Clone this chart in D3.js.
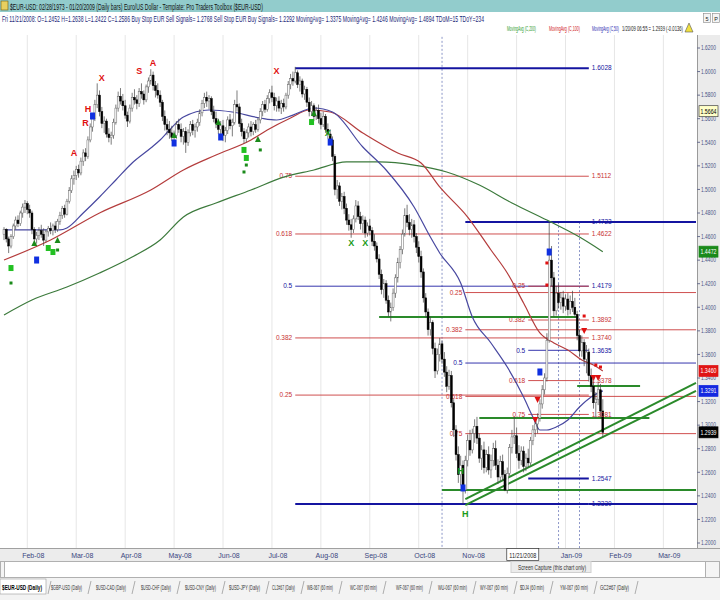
<!DOCTYPE html>
<html><head><meta charset="utf-8">
<script src="https://cdn.jsdelivr.net/npm/d3@7"></script>
<style>body{margin:0;background:#fff}svg{display:block}text{font-family:"Liberation Sans Narrow","Arial Narrow","Liberation Sans",Arial,sans-serif}</style>
</head><body><svg id="c" width="720" height="600"></svg>
<script>
// ---------------- DATA ----------------
const open=[1.462,1.466,1.458,1.452,1.460,1.469,1.474,1.471,1.480,1.485,
1.488,1.483,1.480,1.466,1.458,1.461,1.465,1.462,1.457,1.464,
1.467,1.465,1.469,1.466,1.473,1.478,1.484,1.479,1.490,1.499,
1.509,1.512,1.517,1.514,1.524,1.531,1.528,1.542,1.553,1.560,
1.572,1.580,1.566,1.556,1.558,1.547,1.544,1.546,1.557,1.569,
1.579,1.575,1.571,1.563,1.558,1.569,1.578,1.576,1.573,1.583,
1.581,1.576,1.587,1.592,1.597,1.588,1.584,1.580,1.574,1.562,
1.555,1.551,1.548,1.544,1.546,1.555,1.551,1.545,1.549,1.540,
1.548,1.555,1.550,1.553,1.557,1.565,1.573,1.578,1.575,1.577,
1.566,1.560,1.556,1.551,1.554,1.546,1.550,1.559,1.554,1.557,
1.572,1.570,1.556,1.549,1.543,1.548,1.553,1.549,1.555,1.551,
1.559,1.566,1.572,1.568,1.577,1.582,1.578,1.571,1.575,1.569,
1.573,1.570,1.580,1.589,1.594,1.592,1.599,1.589,1.592,1.581,
1.585,1.574,1.566,1.571,1.562,1.567,1.560,1.555,1.562,1.551,
1.547,1.542,1.528,1.500,1.503,1.490,1.494,1.484,1.474,1.470,
1.466,1.475,1.486,1.477,1.471,1.474,1.463,1.469,1.465,1.456,
1.452,1.441,1.428,1.415,1.420,1.406,1.396,1.400,1.412,1.425,
1.438,1.449,1.462,1.478,1.472,1.466,1.470,1.460,1.451,1.443,
1.430,1.408,1.396,1.381,1.387,1.365,1.346,1.360,1.369,1.356,
1.345,1.333,1.342,1.319,1.296,1.275,1.258,1.266,1.245,1.270,
1.287,1.279,1.293,1.299,1.289,1.272,1.279,1.264,1.275,1.262,
1.270,1.280,1.266,1.256,1.269,1.258,1.245,1.259,1.281,1.290,
1.291,1.276,1.270,1.278,1.265,1.272,1.268,1.287,1.296,1.301,
1.306,1.318,1.330,1.340,1.372,1.440,1.425,1.397,1.412,1.404,
1.408,1.401,1.407,1.398,1.405,1.400,1.394,1.376,1.363,1.370,
1.356,1.362,1.342,1.333,1.319,1.322,1.330,1.312];
const high=[1.468,1.467,1.460,1.462,1.471,1.477,1.478,1.482,1.488,1.491,
1.490,1.487,1.482,1.468,1.464,1.468,1.470,1.467,1.466,1.469,
1.472,1.471,1.473,1.475,1.481,1.486,1.487,1.492,1.502,1.512,
1.516,1.520,1.521,1.527,1.534,1.535,1.545,1.556,1.563,1.576,
1.590,1.584,1.570,1.562,1.560,1.552,1.549,1.560,1.572,1.583,
1.586,1.581,1.576,1.566,1.572,1.582,1.585,1.580,1.586,1.590,
1.584,1.589,1.595,1.602,1.600,1.592,1.590,1.584,1.576,1.567,
1.560,1.558,1.554,1.550,1.558,1.560,1.556,1.552,1.553,1.551,
1.558,1.559,1.556,1.560,1.568,1.576,1.582,1.583,1.580,1.579,
1.571,1.566,1.560,1.558,1.559,1.553,1.562,1.564,1.560,1.576,
1.584,1.573,1.560,1.552,1.551,1.556,1.558,1.557,1.559,1.561,
1.569,1.575,1.576,1.580,1.585,1.588,1.582,1.578,1.579,1.576,
1.577,1.582,1.592,1.598,1.600,1.604,1.601,1.596,1.594,1.588,
1.587,1.578,1.575,1.573,1.570,1.572,1.565,1.566,1.564,1.556,
1.551,1.545,1.530,1.508,1.506,1.497,1.498,1.488,1.479,1.475,
1.478,1.491,1.490,1.481,1.478,1.477,1.472,1.475,1.468,1.462,
1.455,1.445,1.432,1.424,1.423,1.410,1.404,1.416,1.428,1.442,
1.452,1.466,1.484,1.487,1.479,1.475,1.474,1.463,1.456,1.448,
1.433,1.412,1.399,1.392,1.389,1.370,1.365,1.374,1.372,1.362,
1.350,1.347,1.346,1.322,1.300,1.282,1.274,1.270,1.274,1.292,
1.296,1.297,1.305,1.307,1.293,1.283,1.286,1.279,1.282,1.275,
1.285,1.287,1.271,1.274,1.275,1.262,1.264,1.284,1.296,1.307,
1.298,1.283,1.282,1.282,1.276,1.280,1.290,1.300,1.307,1.310,
1.322,1.334,1.344,1.378,1.472,1.452,1.430,1.418,1.420,1.413,
1.414,1.411,1.412,1.410,1.414,1.408,1.397,1.381,1.376,1.373,
1.368,1.365,1.348,1.337,1.328,1.337,1.335,1.322];
const low=[1.457,1.455,1.446,1.450,1.458,1.466,1.468,1.469,1.476,1.480,
1.479,1.476,1.462,1.455,1.454,1.457,1.459,1.452,1.455,1.460,
1.462,1.461,1.463,1.464,1.470,1.475,1.476,1.478,1.488,1.497,
1.504,1.508,1.510,1.512,1.520,1.524,1.526,1.540,1.549,1.558,
1.569,1.562,1.552,1.548,1.544,1.540,1.538,1.543,1.555,1.566,
1.572,1.567,1.560,1.553,1.556,1.566,1.572,1.568,1.570,1.577,
1.572,1.574,1.582,1.589,1.584,1.578,1.577,1.570,1.558,1.550,
1.546,1.543,1.541,1.539,1.543,1.548,1.540,1.538,1.531,1.537,
1.545,1.546,1.544,1.549,1.554,1.562,1.569,1.570,1.568,1.563,
1.557,1.552,1.547,1.545,1.541,1.540,1.547,1.551,1.545,1.555,
1.566,1.553,1.545,1.539,1.540,1.544,1.545,1.546,1.548,1.549,
1.556,1.562,1.565,1.566,1.573,1.574,1.567,1.566,1.566,1.564,
1.566,1.568,1.577,1.585,1.588,1.590,1.586,1.583,1.578,1.576,
1.570,1.562,1.563,1.558,1.559,1.556,1.551,1.553,1.548,1.543,
1.539,1.524,1.495,1.492,1.486,1.483,1.479,1.470,1.465,1.459,
1.463,1.472,1.474,1.466,1.463,1.459,1.460,1.461,1.452,1.448,
1.438,1.424,1.411,1.408,1.403,1.392,1.388,1.397,1.408,1.421,
1.433,1.445,1.460,1.468,1.461,1.459,1.455,1.446,1.438,1.425,
1.404,1.391,1.376,1.376,1.360,1.340,1.343,1.354,1.352,1.341,
1.328,1.330,1.315,1.290,1.270,1.251,1.249,1.233,1.242,1.265,
1.274,1.276,1.285,1.284,1.268,1.262,1.259,1.260,1.258,1.255,
1.265,1.262,1.250,1.252,1.253,1.244,1.242,1.257,1.276,1.284,
1.272,1.263,1.266,1.260,1.261,1.264,1.266,1.283,1.290,1.293,
1.303,1.314,1.326,1.337,1.370,1.418,1.392,1.393,1.399,1.398,
1.395,1.397,1.393,1.394,1.396,1.391,1.372,1.358,1.358,1.350,
1.344,1.337,1.328,1.314,1.306,1.317,1.306,1.290];
const close=[1.466,1.458,1.452,1.460,1.469,1.474,1.471,1.480,1.485,1.488,
1.483,1.480,1.466,1.458,1.461,1.465,1.462,1.457,1.464,1.467,
1.465,1.469,1.466,1.473,1.478,1.484,1.479,1.490,1.499,1.509,
1.512,1.517,1.514,1.524,1.531,1.528,1.542,1.553,1.560,1.572,
1.580,1.566,1.556,1.558,1.547,1.544,1.546,1.557,1.569,1.579,
1.575,1.571,1.563,1.558,1.569,1.578,1.576,1.573,1.583,1.581,
1.576,1.587,1.592,1.597,1.588,1.584,1.580,1.574,1.562,1.555,
1.551,1.548,1.544,1.546,1.555,1.551,1.545,1.549,1.540,1.548,
1.555,1.550,1.553,1.557,1.565,1.573,1.578,1.575,1.577,1.566,
1.560,1.556,1.551,1.554,1.546,1.550,1.559,1.554,1.557,1.572,
1.570,1.556,1.549,1.543,1.548,1.553,1.549,1.555,1.551,1.559,
1.566,1.572,1.568,1.577,1.582,1.578,1.571,1.575,1.569,1.573,
1.570,1.580,1.589,1.594,1.592,1.599,1.589,1.592,1.581,1.585,
1.574,1.566,1.571,1.562,1.567,1.560,1.555,1.562,1.551,1.547,
1.542,1.528,1.500,1.503,1.490,1.494,1.484,1.474,1.470,1.466,
1.475,1.486,1.477,1.471,1.474,1.463,1.469,1.465,1.456,1.452,
1.441,1.428,1.415,1.420,1.406,1.396,1.400,1.412,1.425,1.438,
1.449,1.462,1.478,1.472,1.466,1.470,1.460,1.451,1.443,1.430,
1.408,1.396,1.381,1.387,1.365,1.346,1.360,1.369,1.356,1.345,
1.333,1.342,1.319,1.296,1.275,1.258,1.266,1.245,1.270,1.287,
1.279,1.293,1.299,1.289,1.272,1.279,1.264,1.275,1.262,1.270,
1.280,1.266,1.256,1.269,1.258,1.245,1.259,1.281,1.290,1.291,
1.276,1.270,1.278,1.265,1.272,1.268,1.287,1.296,1.301,1.306,
1.318,1.330,1.340,1.372,1.440,1.425,1.397,1.412,1.404,1.408,
1.401,1.407,1.398,1.405,1.400,1.394,1.376,1.363,1.370,1.356,
1.362,1.342,1.333,1.319,1.322,1.330,1.312,1.294];

// moving averages (bar index, value)
const ma50Idx=[0,24,27,34,41,48,55,63,67,71,77,88,98,110,117,124,133,141,154,164,176,183,187,196,201,209,216,223,227,230,233,237,242,247,252,257];
const ma50Val=[1.4656,1.4656,1.4673,1.4800,1.4936,1.5080,1.5224,1.5351,1.5419,1.5504,1.5614,1.5674,1.5657,1.5606,1.5589,1.5631,1.5691,1.5657,1.5360,1.5165,1.4851,1.4596,1.4461,1.4206,1.3918,1.3697,1.3493,1.3239,1.3069,1.2959,1.2959,1.2984,1.3044,1.3154,1.3239,1.3291];
const ma100Idx=[0,20,41,63,77,91,106,113,123,131,140,154,169,179,187,199,209,216,223,230,236,242,248,253,257];
const ma100Val=[1.4401,1.4571,1.4800,1.4995,1.5165,1.5292,1.5419,1.5504,1.5606,1.5674,1.5657,1.5479,1.5309,1.5224,1.5021,1.4766,1.4486,1.4291,1.4036,1.3782,1.3697,1.3638,1.3553,1.3510,1.3460];
const ma200Idx=[0,12,27,41,55,67,77,91,106,120,133,147,161,176,190,204,218,233,247,257];
const ma200Val=[1.3935,1.4062,1.4172,1.4291,1.4427,1.4571,1.4766,1.4885,1.4995,1.5105,1.5165,1.5233,1.5233,1.5207,1.5148,1.5037,1.4885,1.4740,1.4596,1.4472];

// x axis (Dec-08 is hidden under the cursor tooltip in the reference)
const monthLabels=["Feb-08","Mar-08","Apr-08","May-08","Jun-08","Jul-08","Aug-08","Sep-08","Oct-08","Nov-08","Dec-08","Jan-09","Feb-09","Mar-09"];
const monthIdx=[10,31,52,73,94,115,136,157,178,199,220,241,262,283];
const cursorIdx=216; // Fri 11/21/2008
// y axis
const priceTicks=d3.range(1.20,1.6201,0.02);

// Fibonacci set A (Jul-15 high -> Oct-28 low)
const fibALevels=["","0.75","0.618","0.5","0.382","0.25",""];
const fibAPrices=[1.6028,1.5112,1.4622,1.4179,1.3740,1.3255,1.2330];
const fibAValueLabels=["1.6028","1.5112","1.4622","1.4179","1.3740","","1.2330"];
const fibAFrom=125, fibATo=251;
// Fibonacci set B (Oct-28 low / Dec-18 high)
const fibBLevels=["","0.25","0.382","0.5","0.618","0.75"];
const fibBPrices=[1.4723,1.4125,1.3809,1.3527,1.3244,1.2928];
const fibBValueLabels=["1.4723","","","","",""];
const fibBFrom=198, fibBTo=297;
// Fibonacci set C (Dec-18 high -> 1.2547)
const fibCLevels=["0.25","0.382","0.5","0.618","0.75",""];
const fibCPrices=[1.4179,1.3892,1.3635,1.3378,1.3091,1.2547];
const fibCValueLabels=["","1.3892","1.3635","1.3378","1.3081","1.2547"];
const fibCFrom=225, fibCTo=251;

// green support / resistance
const srPrice=[1.3918,1.3332,1.3061,1.2450];
const srFrom=[161,246,204,188];
const srTo=[246,273,277,297];
// double trend line
const trendFrom=[198,198], trendTo=[297,297];
const trendP0=[1.2373,1.2322], trendP1=[1.3358,1.3290];
// cycle lines
const cycleIdx=[188,238,247];
const cycleTop=[1.66,1.4723,1.4723];

// signal markers
const mkIdx=[30,35,36,42,58,64,117, 149,155,139,196,198, 14,38,73,93,140,197,230,234, 3,19,21,103,104,132, 3,23,104,103,110, 13,23,73,92,109,133, 233,233,249,256,254, 229,228,249,253,255];
const mkPrice=[1.5318,1.5572,1.5691,1.5954,1.6013,1.6081,1.6013, 1.4554,1.4554,1.5487,1.2619,1.2255, 1.4401,1.5623,1.5394,1.5445,1.5402,1.2467,1.3451,1.4469, 1.4333,1.4503,1.4469,1.5335,1.5267,1.5572, 1.4206,1.4486,1.5207,1.5148,1.5335, 1.4545,1.4571,1.5462,1.5572,1.5428,1.5648, 1.4376,1.4189,1.3926,1.3493,1.3510, 1.3213,1.3044,1.3799,1.3400,1.3400];
const mkType=["rA","rR","rH","rX","rS","rA","rX", "gX","gX","gX","gH","gH", "bsq","bsq","bsq","bsq","bsq","bsq","bsq","bsq", "gsq","gsq","gsq","gsq","gsq","gsq", "gdot","gdot","gdot","gdot","gdot", "gtri","gtri","gtri","gtri","gtri","gtri", "rdot","rdot","rdot","rdot","rdot", "rtri","rtri","rtri","rtri","rtri"];

// last-value boxes on the price axis
const boxPrice=[1.5664,1.4472,1.3460,1.3291,1.2939];
const boxLabel=["1.5664","1.4472","1.3460","1.3291","1.2939"];

// header / tabs text
const titleText="$EUR-USD:  02/28/1973 - 01/20/2009  (Daily bars)   Euro/US Dollar  -  Template: Pro Traders Toolbox ($EUR-USD)";
const infoText="Fri   11/21/2008:   O=1.2452  H=1.2638  L=1.2422  C=1.2586  Buy Stop EUR Sell Signals= 1.2768  Sell Stop EUR Buy Signals= 1.2292  MovingAvg= 1.3375  MovingAvg= 1.4246  MovingAvg= 1.4894  TDoM=15  TDoY=234";
const legendText=["MovingAvg (C,200)","MovingAvg (C,100)","MovingAvg (C,50)"];
const lastText="1/20/09 06:55 = 1.2939 (-0.0136)";
const tabNames=["$EUR-USD (Daily)","$GBP-USD (Daily)","$USD-CAD (Daily)","$USD-CHF (Daily)","$USD-CNY (Daily)","$USD-JPY (Daily)","CL2#67 (Daily)","WB-067 (60 min)","WC-067 (60 min)","WF-067 (60 min)","WU-067 (60 min)","WY-067 (60 min)","$DJ4 (60 min)","YM-067 (60 min)","GC2#67 (Daily)"];

// ---------------- LAYOUT / STYLE ----------------
const PT=35, PB=548, PR=697;
const svg=d3.select('#c');
const x=d3.scaleLinear().domain([0,297]).range([4,696]);
const y=d3.scaleLinear().domain([1.2,1.62]).range([543,48]);
const RED='#c83232', BLUE='#1414a0', GREEN='#2a8a2a';

svg.append('rect').attr('width',720).attr('height',600).attr('fill','#fff');
svg.append('defs').append('clipPath').attr('id','pc').append('rect').attr('x',0).attr('y',PT).attr('width',PR).attr('height',PB-PT);
const g=svg.append('g').attr('clip-path','url(#pc)');

// month gridlines
g.selectAll('line.mg').data(monthIdx).join('line')
 .attr('x1',d=>x(d)).attr('x2',d=>x(d)).attr('y1',PT).attr('y2',PB)
 .attr('stroke','#e6e6e6').attr('stroke-width',1);
// cycle lines
g.selectAll('line.cy').data(cycleIdx).join('line')
 .attr('x1',d=>x(d)).attr('x2',d=>x(d)).attr('y1',(d,i)=>y(cycleTop[i])).attr('y2',PB)
 .attr('stroke','#8c96c8').attr('stroke-width',1).attr('stroke-dasharray','2,2');

// fib sets
function fibSet(levels,prices,vals,from,to){
  prices.forEach((p,k)=>{
    const lv=levels[k];
    const isBlue = lv==="0.5" || lv==="";
    const thick = lv==="";
    g.append('line').attr('x1',x(from)).attr('x2',x(to)).attr('y1',y(p)).attr('y2',y(p))
      .attr('stroke',isBlue?BLUE:RED).attr('stroke-width',thick?2:1).attr('opacity',thick?1:0.85);
    if(lv) g.append('text').attr('x',x(from)-3).attr('y',y(p)+2.2).attr('text-anchor','end')
      .attr('font-size',6.5).attr('fill',isBlue?BLUE:RED).text(lv);
    if(vals[k]) svg.append('text').attr('x',x(fibATo)+3).attr('y',y(p)+2.2)
      .attr('font-size',6.5).attr('fill',isBlue?BLUE:RED).text(vals[k]);
  });
}
fibSet(fibALevels,fibAPrices,fibAValueLabels,fibAFrom,fibATo);
g.append('line').attr('x1',x(fibATo)).attr('x2',PR).attr('y1',y(1.2330)).attr('y2',y(1.2330)).attr('stroke',BLUE).attr('stroke-width',2);
fibSet(fibBLevels,fibBPrices,fibBValueLabels,fibBFrom,fibBTo);
fibSet(fibCLevels,fibCPrices,fibCValueLabels,fibCFrom,fibCTo);

// support / resistance
g.selectAll('line.sr').data(srPrice).join('line')
 .attr('x1',(d,i)=>x(srFrom[i])).attr('x2',(d,i)=>x(srTo[i])).attr('y1',d=>y(d)).attr('y2',d=>y(d))
 .attr('stroke',GREEN).attr('stroke-width',2);
g.selectAll('line.tr').data(trendP0).join('line')
 .attr('x1',(d,i)=>x(trendFrom[i])).attr('x2',(d,i)=>x(trendTo[i])).attr('y1',d=>y(d)).attr('y2',(d,i)=>y(trendP1[i]))
 .attr('stroke',GREEN).attr('stroke-width',2);

// moving averages
const lineGen=d3.line().curve(d3.curveMonotoneX);
[[ma200Idx,ma200Val,'#3c7a3c'],[ma100Idx,ma100Val,'#b43c3c'],[ma50Idx,ma50Val,'#4848a0']].forEach(([xi,v,c])=>{
  g.append('path').attr('d',lineGen(xi.map((d,i)=>[x(d),y(v[i])]))).attr('fill','none').attr('stroke',c).attr('stroke-width',1.2);
});

// candles
const bars=close.map((c,i)=>({i,o:open[i],h:high[i],l:low[i],c}));
g.selectAll('line.wk').data(bars).join('line')
 .attr('x1',d=>x(d.i)).attr('x2',d=>x(d.i)).attr('y1',d=>y(d.h)).attr('y2',d=>y(d.l))
 .attr('stroke','#444').attr('stroke-width',0.7);
g.selectAll('rect.bd').data(bars).join('rect')
 .attr('x',d=>x(d.i)-0.95).attr('width',1.9)
 .attr('y',d=>y(Math.max(d.o,d.c))).attr('height',d=>Math.max(0.8,Math.abs(y(d.o)-y(d.c))))
 .attr('fill',d=>d.c>=d.o?'#fff':'#000').attr('stroke',d=>d.c>=d.o?'#666':'#000').attr('stroke-width',0.5);

// markers
mkType.forEach((t,k)=>{
  const cx=x(mkIdx[k]), cy=y(mkPrice[k]);
  if(t[0]==='r' && t.length===2){
    g.append('text').attr('x',cx).attr('y',cy+4).attr('text-anchor','middle').attr('font-size',9).attr('font-weight','bold')
      .attr('font-family','DejaVu Serif,serif').attr('fill','#e01010').text(t[1]);
  } else if(t==='gX'||t==='gH'){
    g.append('text').attr('x',cx).attr('y',cy+4).attr('text-anchor','middle').attr('font-size',9).attr('font-weight','bold')
      .attr('font-family','DejaVu Serif,serif').attr('fill','#1a9a1a').text(t[1]);
  } else if(t==='bsq'){
    g.append('rect').attr('x',cx-2.5).attr('y',cy-3.5).attr('width',5).attr('height',7).attr('fill','#1030e0');
  } else if(t==='gsq'){
    g.append('rect').attr('x',cx-2.5).attr('y',cy-3).attr('width',5).attr('height',6).attr('fill','#22c022');
  } else if(t==='gdot'){
    g.append('rect').attr('x',cx-1.5).attr('y',cy-1.5).attr('width',3).attr('height',3).attr('fill','#1a8a1a');
  } else if(t==='gtri'){
    g.append('path').attr('d',`M${cx},${cy-3}L${cx+3},${cy+3}L${cx-3},${cy+3}Z`).attr('fill','#1a8a1a');
  } else if(t==='rdot'){
    g.append('rect').attr('x',cx-1.5).attr('y',cy-1.5).attr('width',3).attr('height',3).attr('fill','#e01010');
  } else if(t==='rtri'){
    g.append('path').attr('d',`M${cx-3},${cy-3}L${cx+3},${cy-3}L${cx},${cy+3}Z`).attr('fill','#e01010');
  }
});

// right price axis
svg.append('rect').attr('x',PR).attr('y',PT).attr('width',720-PR).attr('height',PB-PT).attr('fill','#ebebeb');
svg.append('line').attr('x1',PR+0.5).attr('x2',PR+0.5).attr('y1',PT).attr('y2',PB).attr('stroke','#9a9a9a');
const ya=svg.append('g');
ya.selectAll('line').data(priceTicks).join('line').attr('x1',PR).attr('x2',PR+3).attr('y1',d=>y(d)).attr('y2',d=>y(d)).attr('stroke','#6a7090');
ya.selectAll('text').data(priceTicks).join('text').attr('x',PR+4).attr('y',d=>y(d)+2.3)
 .attr('font-size',6.5).attr('fill','#4a5688').attr('textLength',15).attr('lengthAdjust','spacingAndGlyphs').text(d=>d.toFixed(4));
const boxFill=['#ffffc8','#1a8a1a','#e01414','#1428e0','#000'];
const boxText=['#000','#fff','#fff','#fff','#fff'];
boxPrice.forEach((p,k)=>{
  svg.append('rect').attr('x',PR+2).attr('y',y(p)-5.5).attr('width',19).attr('height',11).attr('fill',boxFill[k]).attr('stroke',k===0?'#444':boxFill[k]).attr('stroke-width',0.7);
  svg.append('text').attr('x',PR+3.5).attr('y',y(p)+2.5).attr('font-size',6.5).attr('fill',boxText[k])
    .attr('textLength',16).attr('lengthAdjust','spacingAndGlyphs').text(boxLabel[k]);
});

// x axis band
svg.append('rect').attr('x',0).attr('y',PB).attr('width',720).attr('height',13).attr('fill','#ececec');
svg.append('line').attr('x1',0).attr('x2',720).attr('y1',PB+0.5).attr('y2',PB+0.5).attr('stroke','#a0a0a0');
const tipX0=x(cursorIdx)-1, tipX1=tipX0+32;
svg.selectAll('text.mx').data(monthLabels.map((l,i)=>({l,cx:x(monthIdx[i])+6})).filter(d=>d.cx<tipX0-8||d.cx>tipX1+8))
 .join('text').attr('x',d=>d.cx).attr('y',PB+10)
 .attr('text-anchor','middle').attr('font-size',7).attr('fill','#3a4680').text(d=>d.l);

// scrollbar
svg.append('rect').attr('x',0.5).attr('y',561.5).attr('width',719).attr('height',16).attr('fill','#fff').attr('stroke','#b0b0b0');
svg.append('rect').attr('x',0.5).attr('y',561.5).attr('width',4).attr('height',16).attr('fill','#f4f4f4').attr('stroke','#b0b0b0');
svg.append('rect').attr('x',705.5).attr('y',561.5).attr('width',14).attr('height',16).attr('fill','#f4f4f4').attr('stroke','#b0b0b0');

// cursor tooltip + popup
svg.append('rect').attr('x',tipX0+0.5).attr('y',548.5).attr('width',32).attr('height',12).attr('fill','#fff').attr('stroke','#333').attr('stroke-width',0.7);
svg.append('text').attr('x',tipX0+3).attr('y',557.5).attr('font-size',7).attr('fill','#222').attr('textLength',27).attr('lengthAdjust','spacingAndGlyphs').text('11/21/2008');
svg.append('rect').attr('x',511).attr('y',561.5).attr('width',80).attr('height',11).attr('fill','#ececec').attr('stroke','#d0d0d0');
svg.append('text').attr('x',518).attr('y',569.5).attr('font-size',7).attr('fill','#333').attr('textLength',68).attr('lengthAdjust','spacingAndGlyphs').text('Screen Capture (this chart only)');

// tabs
svg.append('rect').attr('x',0).attr('y',578).attr('width',720).attr('height',22).attr('fill','#f3f3f3');
const tabX=[2,51,96,141,185,229,272,307,350,396,438,480,520,560,600];
const tabW=[40,31,30,30,31,31,23,26,27,27,29,28,24,28,29];
tabNames.forEach((t,k)=>{
  if(k===0) svg.append('rect').attr('x',0).attr('y',579).attr('width',46).attr('height',15).attr('fill','#fff').attr('stroke','#999').attr('stroke-width',0.6);
  svg.append('text').attr('x',tabX[k]).attr('y',590).attr('font-size',8).attr('fill',k===0?'#000':'#333')
    .attr('font-weight',k===0?'bold':'normal').attr('textLength',tabW[k]).attr('lengthAdjust','spacingAndGlyphs').text(t);
  const sx=tabX[k]+tabW[k]+6;
  svg.append('line').attr('x1',sx).attr('x2',sx+3).attr('y1',594).attr('y2',581).attr('stroke','#9a9a9a').attr('stroke-width',0.8);
});

// header
svg.append('rect').attr('x',0).attr('y',0).attr('width',720).attr('height',12).attr('fill','#92cccc');
svg.append('rect').attr('x',1).attr('y',1).attr('width',7).attr('height',9).attr('fill','#e8d060').attr('stroke','#6a5a10').attr('stroke-width',0.6);
svg.append('text').attr('x',10).attr('y',9.5).attr('font-size',8.5).attr('fill','#111').attr('textLength',253).attr('lengthAdjust','spacingAndGlyphs').text(titleText);
svg.append('text').attr('x',2).attr('y',21.5).attr('font-size',8.5).attr('fill','#1c2878').attr('textLength',482).attr('lengthAdjust','spacingAndGlyphs').text(infoText);
svg.append('rect').attr('x',703.5).attr('y',13.5).attr('width',7).attr('height',9).attr('fill','#f4f4f4').attr('stroke','#888').attr('stroke-width',0.6);
svg.append('rect').attr('x',712.5).attr('y',13.5).attr('width',7).attr('height',9).attr('fill','#f4f4f4').attr('stroke','#888').attr('stroke-width',0.6);
svg.append('text').attr('x',707).attr('y',20.5).attr('text-anchor','middle').attr('font-size',5.5).attr('fill','#222').text('5');
svg.append('text').attr('x',716).attr('y',20.5).attr('text-anchor','middle').attr('font-size',5.5).attr('fill','#222').text('P');
const legX=[507,549,592], legW=[29,31,27], legC=['#2a9a2a','#d02020','#2a2ab0'];
legendText.forEach((t,k)=>svg.append('text').attr('x',legX[k]).attr('y',30.5).attr('font-size',7.5).attr('fill',legC[k]).attr('textLength',legW[k]).attr('lengthAdjust','spacingAndGlyphs').text(t));
svg.append('text').attr('x',622).attr('y',30.5).attr('font-size',7.5).attr('fill','#222').attr('textLength',61).attr('lengthAdjust','spacingAndGlyphs').text(lastText);
svg.append('path').attr('d','M689,23L693,32L685,32Z').attr('fill','#f0e040').attr('stroke','#555').attr('stroke-width',0.6);
</script></body></html>
